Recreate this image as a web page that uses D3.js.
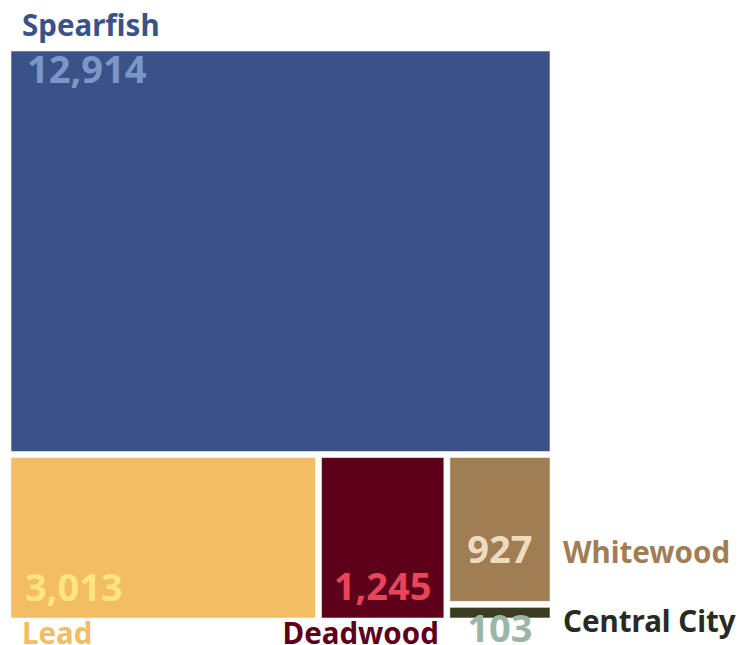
<!DOCTYPE html>
<html>
<head>
<meta charset="utf-8">
<script src="https://cdn.jsdelivr.net/npm/d3@7"></script>
<style>
  html, body { margin: 0; padding: 0; background: #fff; }
  svg { display: block; }
  text { font-family: "Noto Sans", Lato, sans-serif; font-weight: 700; }
</style>
</head>
<body>
<svg id="chart" width="752" height="645"></svg>
<script>
// Population by town
const towns = ["Spearfish", "Lead", "Deadwood", "Whitewood", "Central City"];
const population = [12914, 3013, 1245, 927, 103];

// Fill, value-label and name-label colours per town
const fills = ["#3b5289", "#f2bd63", "#5e0019", "#a07d52", "#3b3c22"];
const valueColors = ["#7d96c8", "#fee57e", "#e6455c", "#eddbbf", "#9ab7a6"];
const nameColors = ["#3b5289", "#f2bd63", "#5e0019", "#a07d52", "#272b24"];

// Where each town's name and value sit around / inside its rectangle
const placement = {
  "Spearfish":    { name: d => [d.x0 + 11, d.y0 - 15, "start"], value: d => [d.x0 + 16, d.y0 + 32, "start"] },
  "Lead":         { name: d => [d.x0 + 11, d.y1 + 26, "start"], value: d => [d.x0 + 14, d.y1 - 17, "start"] },
  "Deadwood":     { name: d => [d.x1 - 5,  d.y1 + 26, "end"],   value: d => [(d.x0 + d.x1) / 2, d.y1 - 18, "middle"] },
  "Whitewood":    { name: d => [d.x1 + 13, d.y1 - 38, "start"], value: d => [(d.x0 + d.x1) / 2, d.y1 - 38, "middle"] },
  "Central City": { name: d => [d.x1 + 13, d.y1 + 14, "start"], value: d => [(d.x0 + d.x1) / 2, d.y1 + 24, "middle"] }
};

const W = 539, H = 567;
const svg = d3.select("#chart");
const g = svg.append("g").attr("transform", "translate(11,51)");

const root = d3.hierarchy({
  children: towns.map((t, i) => ({ name: t, value: population[i], i }))
})
  .sum(d => d.value || 0)
  .sort((a, b) => b.value - a.value);

d3.treemap()
  .tile(d3.treemapSquarify.ratio(1))
  .size([W, H])
  .paddingInner(6)
  .round(false)(root);

const leaves = root.leaves();
const fmt = d3.format(",");

g.selectAll("rect.cell")
  .data(leaves)
  .join("rect")
  .attr("class", "cell")
  .attr("x", d => d.x0)
  .attr("y", d => d.y0)
  .attr("width", d => d.x1 - d.x0)
  .attr("height", d => d.y1 - d.y0)
  .attr("fill", d => fills[d.data.i])
  .attr("stroke", "rgba(255,255,255,0.55)")
  .attr("stroke-width", 1);

// Values
g.selectAll("text.value")
  .data(leaves)
  .join("text")
  .attr("class", "value")
  .each(function (d) {
    const [x, y, a] = placement[d.data.name].value(d);
    d3.select(this).attr("x", x).attr("y", y).attr("text-anchor", a);
  })
  .attr("fill", d => valueColors[d.data.i])
  .style("font-size", "38px")
  .text(d => fmt(d.data.value));

// Names
g.selectAll("text.name")
  .data(leaves)
  .join("text")
  .attr("class", "name")
  .each(function (d) {
    const [x, y, a] = placement[d.data.name].name(d);
    d3.select(this).attr("x", x).attr("y", y).attr("text-anchor", a);
  })
  .attr("fill", d => nameColors[d.data.i])
  .style("font-size", "29.5px")
  .text(d => d.data.name);
</script>
</body>
</html>
